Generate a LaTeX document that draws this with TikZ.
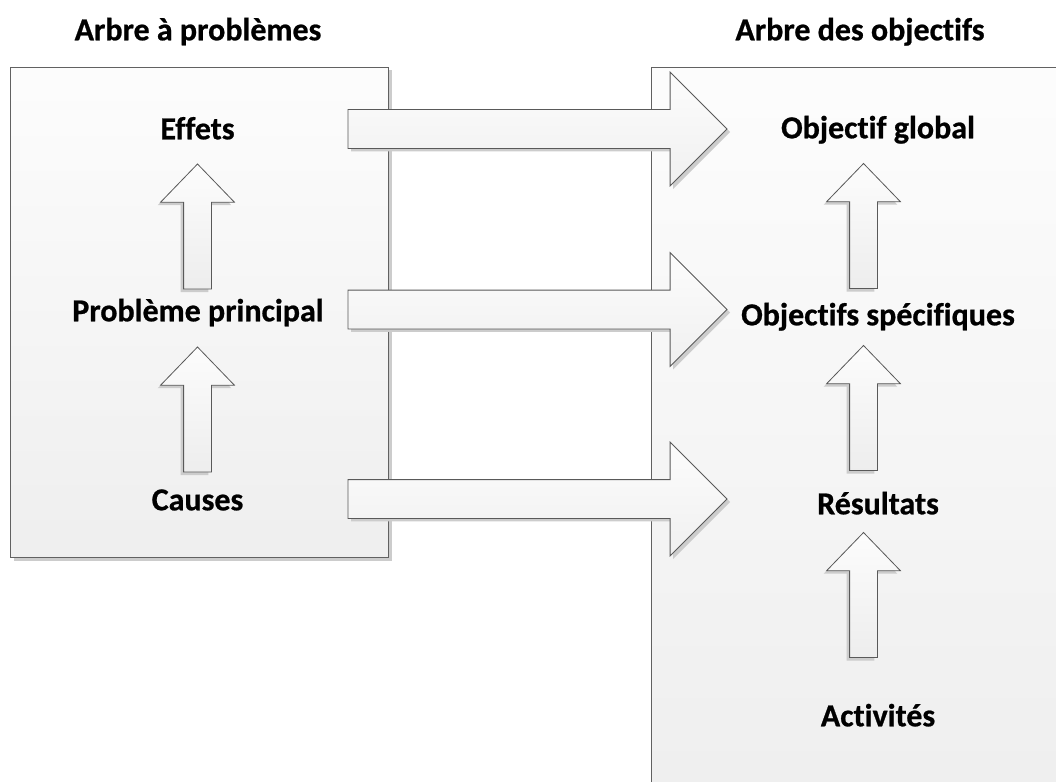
\documentclass[tikz,border=0pt]{standalone}
\usepackage{fontspec}
\setmainfont{Carlito}[Ligatures=NoCommon, BoldFont={Carlito Bold}, BoldFeatures={FakeBold=0.7}]
\usetikzlibrary{shapes.arrows,shadows}
\begin{document}
\begin{tikzpicture}[x=1pt,y=-1pt,
  lbl/.style={font=\fontsize{32}{38}\selectfont\bfseries, inner sep=0pt, text height=20.6pt, text depth=0pt, anchor=center},
  panel/.style={draw=black!62, line width=1pt, top color=black!1, bottom color=black!6.5},
  hshadow/.style={drop shadow={shadow xshift=3pt, shadow yshift=-3pt, fill=black!20, opacity=1}},
  vshadow/.style={drop shadow={shadow xshift=-3pt, shadow yshift=-3pt, fill=black!20, opacity=1}},
  harrow/.style={single arrow, draw=black!65, line width=0.8pt, minimum height=379pt,
    single arrow head extend=37.5pt, inner xsep=0pt, inner ysep=19pt, outer sep=0pt,
    single arrow tip angle=90, top color=black!1, bottom color=black!6, hshadow, anchor=tail},
  varrow/.style={single arrow, draw=black!65, line width=0.8pt, minimum height=125pt,
    single arrow head extend=23pt, inner xsep=0pt, inner ysep=13.5pt, outer sep=0pt,
    single arrow tip angle=88, rotate=90, top color=black!1, bottom color=black!7, vshadow, anchor=tail}
]
\useasboundingbox (0,0) rectangle (1056,781);
\clip (0,0) rectangle (1056,781);
\fill[white] (0,0) rectangle (1056,781);

% panels
\node[panel, anchor=north west, minimum width=378pt, minimum height=490pt, inner sep=0pt,
  drop shadow={shadow xshift=3pt, shadow yshift=-3pt, fill=black!20, opacity=1}] (probbox) at (10,67) {};
\node[panel, anchor=north west, minimum width=420pt, minimum height=740pt, inner sep=0pt] (objbox) at (651,67) {};

% titles
\node[lbl] (t1) at (198,30) {Arbre à problèmes};
\node[lbl] (t2) at (860,30) {Arbre des objectifs};

% left labels
\node[lbl] (eff) at (197.5,129) {Effets};
\node[lbl] (pp) at (198,311) {Problème principal};
\node[lbl] (cau) at (197.5,500) {Causes};

% right labels
\node[lbl] (og) at (878,128) {Objectif global};
\node[lbl] (os) at (878,315) {Objectifs spécifiques};
\node[lbl] (res) at (878,504) {Résultats};
\node[lbl] (act) at (878,716) {Activités};

% horizontal block arrows (tail points)
\coordinate (h1t) at (348,129);
\coordinate (h2t) at (348,309.5);
\coordinate (h3t) at (348,499);
\node[harrow] (h1) at (h1t) {};
\node[harrow] (h2) at (h2t) {};
\node[harrow] (h3) at (h3t) {};

% vertical block arrows (left)
\coordinate (v1t) at (197.5,289);
\coordinate (v2t) at (197.5,472);
\node[varrow] (v1) at (v1t) {};
\node[varrow] (v2) at (v2t) {};

% vertical block arrows (right)
\coordinate (v3t) at (863.5,288.5);
\coordinate (v4t) at (863.5,470.5);
\coordinate (v5t) at (863.5,657.5);
\node[varrow] (v3) at (v3t) {};
\node[varrow] (v4) at (v4t) {};
\node[varrow] (v5) at (v5t) {};
\end{tikzpicture}
\end{document}
